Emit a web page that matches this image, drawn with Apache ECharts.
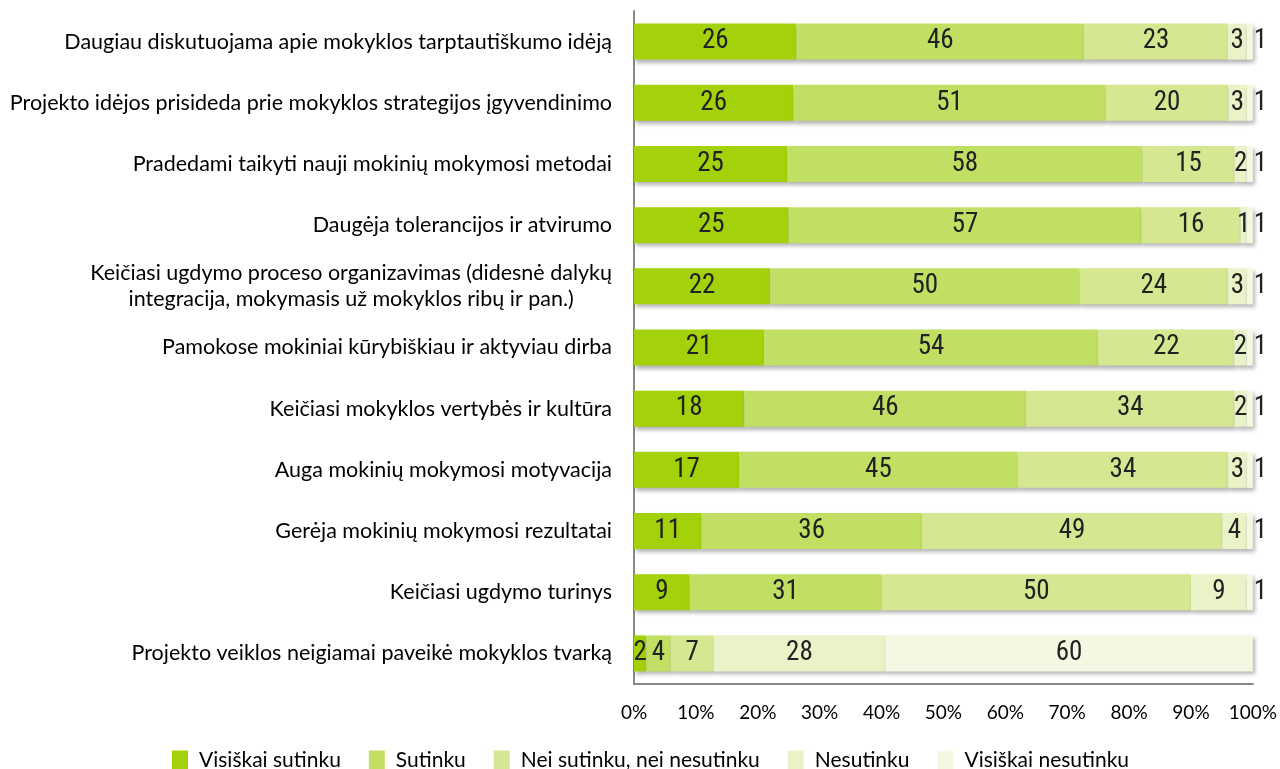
<!DOCTYPE html>
<html>
<head>
<meta charset="utf-8">
<script src="https://cdn.jsdelivr.net/npm/echarts@6/dist/echarts.min.js"></script>
<style>html,body{margin:0;padding:0;background:#fff}#c{width:1280px;height:769px}</style>
</head>
<body>
<div id="c"></div>
<script>
const categories = [
  'Daugiau diskutuojama apie mokyklos tarptautiškumo idėją',
  'Projekto idėjos prisideda prie mokyklos strategijos įgyvendinimo',
  'Pradedami taikyti nauji mokinių mokymosi metodai',
  'Daugėja tolerancijos ir atvirumo',
  'Keičiasi ugdymo proceso organizavimas (didesnė dalykų\nintegracija, mokymasis už mokyklos ribų ir pan.)',
  'Pamokose mokiniai kūrybiškiau ir aktyviau dirba',
  'Keičiasi mokyklos vertybės ir kultūra',
  'Auga mokinių mokymosi motyvacija',
  'Gerėja mokinių mokymosi rezultatai',
  'Keičiasi ugdymo turinys',
  'Projekto veiklos neigiamai paveikė mokyklos tvarką'
];
const seriesNames = ['Visiškai sutinku', 'Sutinku', 'Nei sutinku, nei nesutinku', 'Nesutinku', 'Visiškai nesutinku'];
const visiskaiSutinku   = [26, 26, 25, 25, 22, 21, 18, 17, 11, 9, 2];
const sutinku           = [46, 51, 58, 57, 50, 54, 46, 45, 36, 31, 4];
const neiNei            = [23, 20, 15, 16, 24, 22, 34, 34, 49, 50, 7];
const nesutinku         = [3, 3, 2, 1, 3, 2, 2, 3, 4, 9, 28];
const visiskaiNesutinku = [1, 1, 1, 1, 1, 1, 1, 1, 1, 1, 60];
const xTicks = [0, 10, 20, 30, 40, 50, 60, 70, 80, 90, 100];

const colors = ['#a3d20a', '#c0df63', '#d5e891', '#e9f3c7', '#f4f8e2'];
const all = [visiskaiSutinku, sutinku, neiNei, nesutinku, visiskaiNesutinku];
const sums = categories.map((_, i) => all.reduce((a, s) => a + s[i], 0));
const numFont = '"Liberation Sans Narrow","Arial Narrow","Roboto Condensed","Liberation Sans",sans-serif';
const txtFont = 'Lato, "Open Sans", sans-serif';

const series = all.map((arr, si) => ({
  name: seriesNames[si],
  type: 'bar',
  stack: 'total',
  barWidth: 36,
  itemStyle: {
    color: colors[si],
    shadowBlur: 4, shadowOffsetX: 2, shadowOffsetY: 3, shadowColor: 'rgba(0,0,0,0.3)'
  },
  label: {
    show: true, position: 'inside', color: '#222',
    fontFamily: numFont, fontSize: 27,
    formatter: p => String(arr[p.dataIndex])
  },
  data: arr.map((v, i) => {
    const item = { value: v / sums[i] * 100 };
    if (si === 4 && v <= 1) item.label = { position: 'right', distance: 1 };
    return item;
  })
}));

const chart = echarts.init(document.getElementById('c'));
chart.setOption({
  animation: false,
  color: colors,
  grid: { left: 634, right: 27, top: 11, bottom: 85 },
  legend: {
    bottom: -7, left: 167,
    itemWidth: 16, itemHeight: 20, itemGap: 28,
    icon: 'rect',
    textStyle: { fontFamily: txtFont, fontSize: 21, color: '#000', padding: [0, 0, 0, 6] },
    data: seriesNames
  },
  xAxis: {
    type: 'value', min: 0, max: 100, interval: 10,
    axisLine: { show: true, lineStyle: { color: '#888', width: 2 } },
    axisTick: { show: false },
    splitLine: { show: false },
    axisLabel: { formatter: '{value}%', fontFamily: txtFont, fontSize: 19, color: '#000', margin: 19 }
  },
  yAxis: {
    type: 'category', inverse: true, data: categories,
    axisLine: { show: true, lineStyle: { color: '#888', width: 2 } },
    axisTick: { show: false },
    axisLabel: {
      fontFamily: txtFont, fontSize: 21.5, color: '#000', margin: 22,
      formatter: v => v.split('\n').map(l => '{c|' + l + '}').join('\n'),
      rich: { c: { align: 'center', fontFamily: txtFont, fontSize: 21.5, color: '#000', lineHeight: 26 } }
    }
  },
  series: series
});
</script>
</body>
</html>
